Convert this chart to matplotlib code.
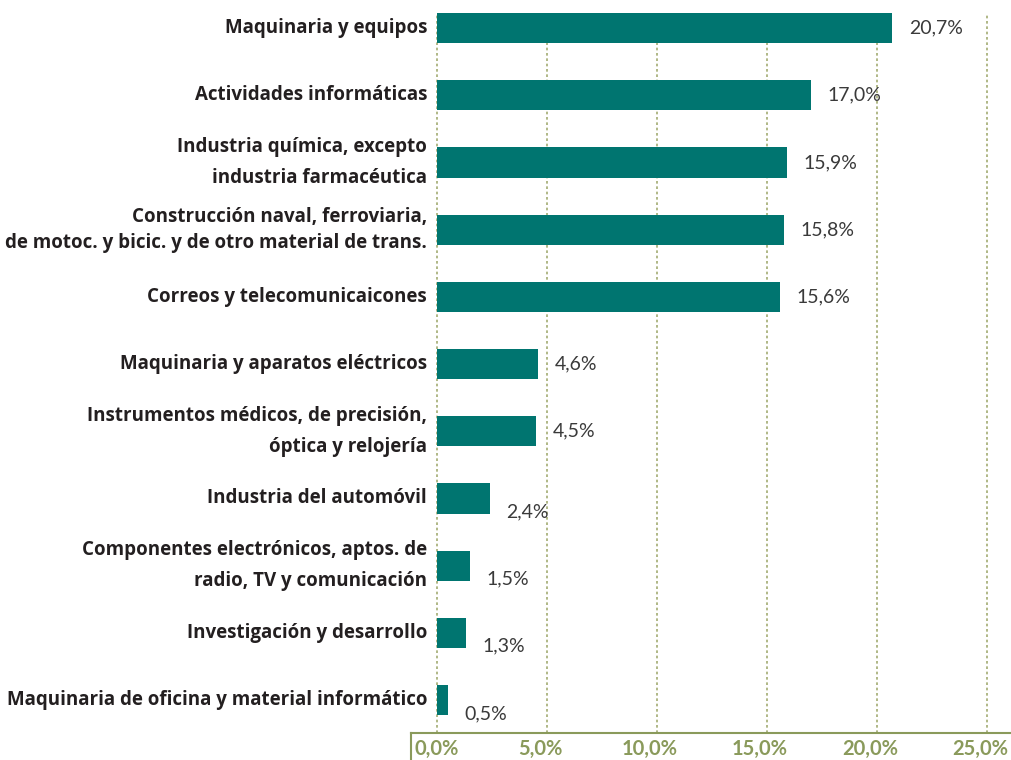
import matplotlib
matplotlib.use("Agg")
import matplotlib.pyplot as plt
from matplotlib.lines import Line2D
from matplotlib.transforms import ScaledTranslation

categories = [
    "Maquinaria y equipos",
    "Actividades informáticas",
    "Industria química, excepto\nindustria farmacéutica",
    "Construcción naval, ferroviaria,\nde motoc. y bicic. y de otro material de trans.",
    "Correos y telecomunicaicones",
    "Maquinaria y aparatos eléctricos",
    "Instrumentos médicos, de precisión,\nóptica y relojería",
    "Industria del automóvil",
    "Componentes electrónicos, aptos. de\nradio, TV y comunicación",
    "Investigación y desarrollo",
    "Maquinaria de oficina y material informático",
]
values = [20.7, 17.0, 15.9, 15.8, 15.6, 4.6, 4.5, 2.4, 1.5, 1.3, 0.5]
value_labels = ["20,7%", "17,0%", "15,9%", "15,8%", "15,6%", "4,6%", "4,5%",
                "2,4%", "1,5%", "1,3%", "0,5%"]
xticks = [0, 5, 10, 15, 20, 25]
xtick_labels = ["0,0%", "5,0%", "10,0%", "15,0%", "20,0%", "25,0%"]

BAR = "#007570"
OLIVE = "#8a9a5b"
GRID = "#a3ac72"
TEXT = "#231f20"

W, H = 1011, 760
fig = plt.figure(figsize=(W / 100, H / 100), dpi=100)
ax = fig.add_axes([411 / W, 27 / H, 600 / W, 733 / H])

pos = list(range(len(values)))
ax.barh(pos, values, height=0.45, color=BAR, zorder=3)

ax.set_xlim(-1.18, 26.1)
ax.set_ylim(10.49, -0.417)

for t in xticks:
    ax.axvline(t, ymin=0, ymax=0.982, color=GRID, lw=1.2,
               linestyle=(0, (1.6, 1.6)), zorder=1)

for i, (v, lab) in enumerate(zip(values, value_labels)):
    dy = 0.2 if v < 3 else 0.0
    dx = 0.75
    ax.text(v + dx, i + dy, lab, ha="left", va="center", fontsize=14,
            color="#3a3a3a", family="Lato", fontweight="normal", zorder=4)

ax.set_yticks([])
ax.set_xticks(xticks)
ax.set_xticklabels(xtick_labels)
ax.tick_params(axis="x", length=0, pad=4, labelsize=14.5, labelcolor=OLIVE)
shift = ScaledTranslation(-7 / 100, 0, fig.dpi_scale_trans)
for k, lab in enumerate(ax.get_xticklabels()):
    lab.set_fontweight("bold")
    lab.set_family("Lato")
    if k > 0:
        lab.set_transform(lab.get_transform() + shift)

for s in ["top", "right", "left"]:
    ax.spines[s].set_visible(False)
ax.spines["bottom"].set_color(OLIVE)
ax.spines["bottom"].set_linewidth(1.5)

# left frame of axis box
fig.add_artist(Line2D([411 / W, 411 / W], [0, 27 / H], color=OLIVE, lw=1.5,
                      transform=fig.transFigure))

spacing = {2: 1.75, 3: 1.4, 6: 1.75, 8: 1.75}
for i, c in enumerate(categories):
    ax.text(-0.45, i, c, ha="right", va="center", fontsize=13.5,
            fontweight="bold", color=TEXT, family="Open Sans",
            linespacing=spacing.get(i, 1.2),
            transform=ax.transData, clip_on=False)

fig.savefig("out.png", dpi=100)
